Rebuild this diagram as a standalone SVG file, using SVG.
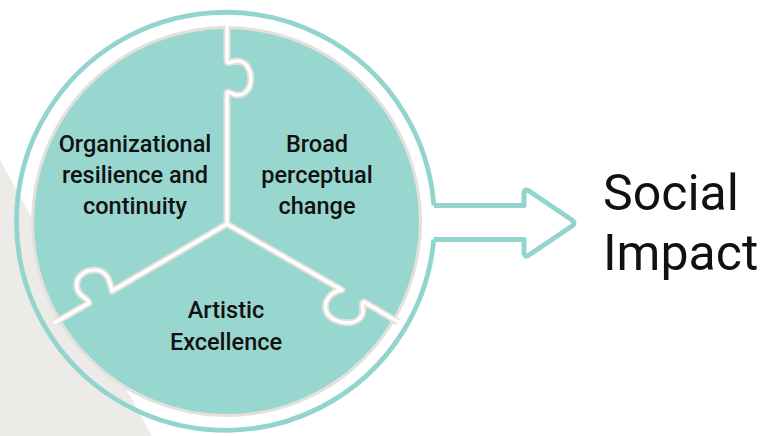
<svg xmlns="http://www.w3.org/2000/svg" width="764" height="436" viewBox="0 0 764 436">
  <style>
    .lbl { font-family: Roboto, "Liberation Sans", sans-serif; font-weight: 500; font-size: 23.5px; fill: #111; text-anchor: middle; }
    .big { font-family: Roboto, "Liberation Sans", sans-serif; font-weight: 400; font-size: 50px; fill: #111; }
    .seam-o { fill: none; stroke: #e4e1dc; stroke-width: 7; stroke-linejoin: round; stroke-linecap: butt; }
    .seam-i { fill: none; stroke: #ffffff; stroke-width: 3.2; stroke-linejoin: round; stroke-linecap: butt; }
    .teal-line { fill: none; stroke: #93d5ce; stroke-width: 4.8; stroke-linejoin: round; }
  </style>
  <rect width="764" height="436" fill="#ffffff"/>
  <polygon id="backdrop" points="0,160 152,436 0,436" fill="#ecebe8"/>

  <g id="ring">
    <path class="teal-line" d="M433.9,205.5 A209,209 0 1 0 433.7,239.5"/>
  </g>

  <g id="disc">
    <circle cx="226.5" cy="221.5" r="194" fill="#98d6d0" stroke="#e4e1dc" stroke-width="3"/>
  </g>

  <g id="connectors">
    <g id="seams">
      <path class="seam-o" d="M227,26 L227,59 C227,66 230,61 238,61 C254,62 256,93 239,95 C231,96 227,88 227,95 L227,224"/>
      <path class="seam-o" d="M227,224 L112,291 C110,281 107,270 95,270 C84,270 75,277 77,288 C79,298 88,297 89,303 L56,322"/>
      <path class="seam-o" d="M227,224 L342,290 C331,291 322,302 327,313 C333,324 357,327 362,315 C365,309 360,304 364,302 L398,322"/>
      <path class="seam-i" d="M227,24 L227,59 C227,66 230,61 238,61 C254,62 256,93 239,95 C231,96 227,88 227,95 L227,224"/>
      <path class="seam-i" d="M227,224 L112,291 C110,281 107,270 95,270 C84,270 75,277 77,288 C79,298 88,297 89,303 L54,323"/>
      <path class="seam-i" d="M227,224 L342,290 C331,291 322,302 327,313 C333,324 357,327 362,315 C365,309 360,304 364,302 L400,323"/>
    </g>
    <path id="arrow" d="M433.9,205.5 L524,205.5 L524,194 Q524,188 529,191 L572,220 Q576,223 572,226 L529,255 Q524,258 524,252 L524,239.5 L433.7,239.5" fill="#ffffff" stroke="#93d5ce" stroke-width="5" stroke-linejoin="round"/>
  </g>

  <g id="node-org">
    <text class="lbl" x="135" y="152">Organizational</text>
    <text class="lbl" x="135" y="183">resilience and</text>
    <text class="lbl" x="135" y="214">continuity</text>
  </g>
  <g id="node-broad">
    <text class="lbl" x="317" y="152">Broad</text>
    <text class="lbl" x="317" y="183">perceptual</text>
    <text class="lbl" x="317" y="214">change</text>
  </g>
  <g id="node-art">
    <text class="lbl" x="226" y="318">Artistic</text>
    <text class="lbl" x="226" y="350">Excellence</text>
  </g>
  <g id="node-social">
    <text class="big" x="603" y="210">Social</text>
    <text class="big" x="603" y="270">Impact</text>
  </g>
</svg>
